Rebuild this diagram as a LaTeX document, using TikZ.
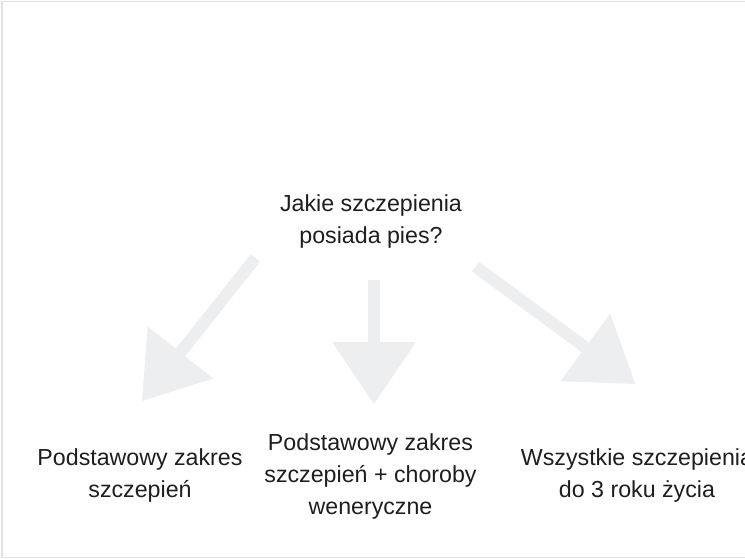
\documentclass[tikz,border=0pt]{standalone}
\usepackage{fontspec}
\setmainfont{Liberation Sans}
\usetikzlibrary{arrows.meta}
\definecolor{arrowgray}{HTML}{EDEEF0}
\definecolor{framegray}{HTML}{E2E2E2}
\definecolor{txt}{HTML}{1E1E1E}
\begin{document}
\begin{tikzpicture}[x=1pt,y=-1pt,
  label/.style={align=center,inner sep=0pt,text=txt,font=\fontsize{23.2}{32}\selectfont},
  bigarrow/.style={draw=arrowgray,line width=12pt,
    -{Triangle[length=62pt,width=84pt,line width=0pt,fill=arrowgray]}}]
\useasboundingbox (0,0) rectangle (745,559);
\draw[framegray,line width=1.2pt] (2,1.5) rectangle (790,557.5);
\node[label] (q) at (371,221.5) {Jakie szczepienia\\posiada pies?};
\node[label] (a) at (140,475.5) {Podstawowy zakres\\szczepień};
\node[label] (b) at (370.5,476.5) {Podstawowy zakres\\szczepień + choroby\\weneryczne};
\node[label] (c) at (637,475.5) {Wszystkie szczepienia\\do 3 roku życia};
\coordinate (s1) at (255.5,258);
\coordinate (t1) at (142,401);
\coordinate (s2) at (374,280);
\coordinate (t2) at (374,404);
\coordinate (s3) at (475.5,266.7);
\coordinate (t3) at (635.3,384);
\draw[bigarrow] (s1) -- (t1);
\draw[bigarrow] (s2) -- (t2);
\draw[bigarrow] (s3) -- (t3);
\end{tikzpicture}
\end{document}
